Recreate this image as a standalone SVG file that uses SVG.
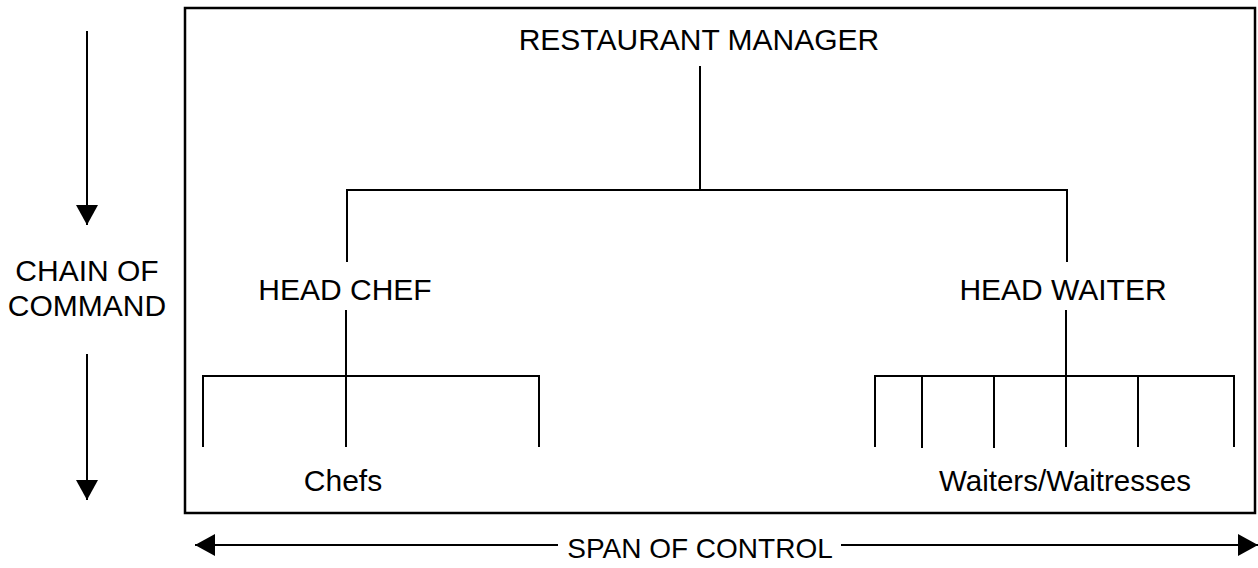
<svg xmlns="http://www.w3.org/2000/svg" width="1258" height="568" viewBox="0 0 1258 568">
<style>
text{font-family:"Liberation Sans",Arial,sans-serif;font-size:30px;fill:#000;text-anchor:middle}
.ln{stroke:#000;stroke-width:2;fill:none}
.frame{stroke:#000;stroke-width:2.5;fill:none}
</style>
<defs>
<marker id="ah" viewBox="0 0 20 22" refX="20" refY="11" markerWidth="20" markerHeight="22" markerUnits="userSpaceOnUse" orient="auto"><path d="M0,0 L20,11 L0,22 z" fill="#000"/></marker>
</defs>
<rect class="frame" x="185" y="8" width="1070" height="505"/>
<g id="manager"><text x="699" y="50">RESTAURANT MANAGER</text></g>
<g id="head-chef"><text x="345" y="300">HEAD CHEF</text></g>
<g id="head-waiter"><text x="1063" y="300">HEAD WAITER</text></g>
<g id="chefs"><text x="343" y="491">Chefs</text></g>
<g id="waiters"><text x="1065" y="491" style="font-size:29.5px">Waiters/Waitresses</text></g>
<g id="chain-of-command"><text x="87" y="281">CHAIN OF</text><text x="87" y="316">COMMAND</text></g>
<g id="span-of-control"><text x="700" y="558" style="font-size:28px">SPAN OF CONTROL</text></g>
<g id="connectors">
<path class="ln" d="M700,66 V189 M347,262 V190 H1067 V262"/>
<path class="ln" d="M346,310 V382 M203,447 V376 H539 V447 M346,376 V447"/>
<path class="ln" d="M1066,310 V382 M875,447 V376 H1234 V447 M922,376 V448 M994,376 V448 M1066,376 V447 M1138,376 V447"/>
<path class="ln" d="M87,31 V225" marker-end="url(#ah)"/>
<path class="ln" d="M87,354 V500" marker-end="url(#ah)"/>
<path class="ln" d="M558,545 H195" marker-end="url(#ah)"/>
<path class="ln" d="M841,545 H1258" marker-end="url(#ah)"/>
</g>
</svg>
